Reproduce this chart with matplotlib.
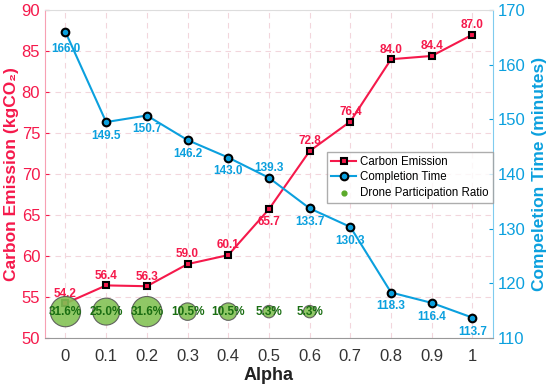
import numpy as np
import matplotlib.pyplot as plt

plt.rcParams['font.family'] = ['Liberation Sans', 'DejaVu Sans']

alpha = [0, 0.1, 0.2, 0.3, 0.4, 0.5, 0.6, 0.7, 0.8, 0.9, 1.0]
alpha_labels = ['0', '0.1', '0.2', '0.3', '0.4', '0.5', '0.6', '0.7', '0.8', '0.9', '1']
carbon = [54.2, 56.4, 56.3, 59.0, 60.1, 65.7, 72.8, 76.4, 84.0, 84.4, 87.0]
comp_time = [166.0, 149.5, 150.7, 146.2, 143.0, 139.3, 133.7, 130.3, 118.3, 116.4, 113.7]
drone_ratio = [31.6, 25.0, 31.6, 10.5, 10.5, 5.3, 5.3, 0, 0, 0, 0]

red = '#F5194B'
blue = '#0BA0DE'
green = '#84C255'

fig = plt.figure(figsize=(5.5, 3.87), dpi=100)
ax = fig.add_axes([0.082, 0.127, 0.814, 0.847])
ax2 = ax.twinx()

# carbon emission line
l1, = ax.plot(alpha, carbon, color=red, lw=1.5, marker='s', ms=5,
              mfc=red, mec='black', mew=1.5, label='Carbon Emission', zorder=2)
for i, (x, y) in enumerate(zip(alpha, carbon)):
    off = -9 if i == 5 else 7
    ax.annotate(f'{y:.1f}', (x, y), xytext=(0, off), textcoords='offset points',
                ha='center', va='center', color=red, fontsize=8.5, fontweight='bold')

# drone participation bubbles
bx = [a for a, r in zip(alpha, drone_ratio) if r > 0]
br = [r for r in drone_ratio if r > 0]
ax.scatter(bx, [53.2] * len(bx), s=[r * 15 for r in br], color=green, alpha=0.9,
           edgecolors='#555555', linewidths=0.8, zorder=3)
for x, r in zip(bx, br):
    ax.text(x, 53.2, f'{r:.1f}%', ha='center', va='center', color='#1A6E12',
            fontsize=8.5, fontweight='bold', zorder=4)
l3 = ax.scatter([], [], s=12, color='#5BAA2A', label='Drone Participation Ratio')

# completion time line
l2, = ax2.plot(alpha, comp_time, color=blue, lw=1.5, marker='o', ms=5.5,
               mfc=blue, mec='black', mew=1.5, label='Completion Time')
for i, (x, y) in enumerate(zip(alpha, comp_time)):
    off = 7 if i == 5 else (-12 if i == 0 else -10)
    ax2.annotate(f'{y:.1f}', (x, y), xytext=(0, off), textcoords='offset points',
                 ha='center', va='center', color=blue, fontsize=8.5, fontweight='bold')

ax.set_xlim(-0.05, 1.05)
ax.set_ylim(50, 90)
ax2.set_ylim(110, 170)
ax.set_xticks(alpha)
ax.set_xticklabels(alpha_labels)
ax.set_yticks(np.arange(50, 91, 5))
ax2.set_yticks(np.arange(110, 171, 10))

ax.grid(True, linestyle=(0, (5, 4)), color='#F2D6DC', lw=0.8)
ax.set_axisbelow(True)

ax.tick_params(axis='x', labelsize=12, colors='#333333', length=0, pad=8)
ax.tick_params(axis='y', labelsize=12, colors=red, direction='in', length=3)
ax2.tick_params(axis='y', labelsize=12, colors=blue, direction='in', length=3)
ax2.spines['left'].set_color('#F7A0B3')
ax2.spines['right'].set_color('#7FCBEE')
ax2.spines['top'].set_color('#DDDDDD')
ax2.spines['bottom'].set_color('#999999')
for s in ax.spines.values():
    s.set_visible(False)

ax.set_xlabel('Alpha', fontsize=13, fontweight='bold', color='#222222', labelpad=2)
ax.set_ylabel('Carbon Emission (kgCO₂)', fontsize=12.5, fontweight='bold', color=red, labelpad=2)
ax2.set_ylabel('Compeletion Time (minutes)', fontsize=12.5, fontweight='bold', color=blue, labelpad=5)

leg = ax2.legend(handles=[l1, l2, l3], loc='upper right', bbox_to_anchor=(1.0, 0.567),
                 fontsize=8.3, frameon=True, fancybox=False, edgecolor='#999999',
                 borderpad=0.35, handlelength=2.1, handletextpad=0.4, labelspacing=0.3,
                 borderaxespad=0)

fig.savefig('out.png', dpi=100)
